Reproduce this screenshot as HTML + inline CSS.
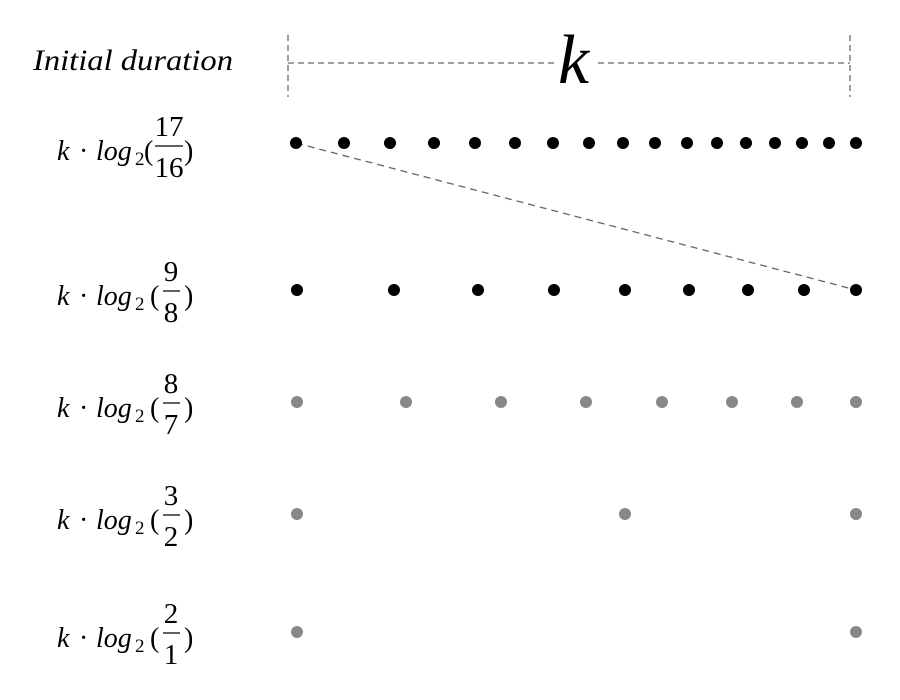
<!DOCTYPE html>
<html><head><meta charset="utf-8"><style>
html,body{margin:0;padding:0;background:#fff;}
</style></head><body>
<svg width="900" height="695" viewBox="0 0 900 695" xmlns="http://www.w3.org/2000/svg" font-family="'Liberation Serif', 'DejaVu Serif', serif">
<g stroke="#666" stroke-width="1.3" stroke-dasharray="6,4" fill="none">
<line x1="288" y1="35" x2="288" y2="97"/>
<line x1="850" y1="35" x2="850" y2="97"/>
<line x1="288" y1="63" x2="850" y2="63"/>
<line x1="296" y1="143" x2="856" y2="290" stroke-dasharray="7,5"/>
</g>
<rect x="556" y="40" width="38" height="40" fill="#fff"/>
<text x="558" y="83" font-size="70" font-style="italic" font-family="'Liberation Serif', serif">k</text>
<text x="33" y="70" font-size="30" font-style="italic" textLength="200" lengthAdjust="spacingAndGlyphs" font-family="'Liberation Serif', serif">Initial duration</text>

<g font-size="28" font-style="italic" font-family="'Liberation Serif', serif">
<text x="57" y="160">k</text><text x="57" y="305">k</text><text x="57" y="417">k</text><text x="57" y="529">k</text><text x="57" y="647">k</text>
<text x="96" y="160">log</text><text x="96" y="305">log</text><text x="96" y="417">log</text><text x="96" y="529">log</text><text x="96" y="647">log</text>
</g>
<g font-size="28" font-family="'Liberation Serif', serif">
<text x="79" y="160">·</text><text x="79" y="305">·</text><text x="79" y="417">·</text><text x="79" y="529">·</text><text x="79" y="647">·</text>
<text x="144" y="160">(</text><text x="184" y="160">)</text>
<text x="150" y="305">(</text><text x="184" y="305">)</text>
<text x="150" y="417">(</text><text x="184" y="417">)</text>
<text x="150" y="529">(</text><text x="184" y="529">)</text>
<text x="150" y="647">(</text><text x="184" y="647">)</text>
</g>
<g font-size="19" font-family="'Liberation Serif', serif">
<text x="135" y="165">2</text><text x="135" y="310">2</text><text x="135" y="422">2</text><text x="135" y="534">2</text><text x="135" y="652">2</text>
</g>
<g font-size="29" text-anchor="middle" font-family="'Liberation Serif', serif">
<text x="169" y="136">17</text><text x="169" y="177">16</text>
<text x="171" y="281">9</text><text x="171" y="322">8</text>
<text x="171" y="393">8</text><text x="171" y="434">7</text>
<text x="171" y="505">3</text><text x="171" y="546">2</text>
<text x="171" y="623">2</text><text x="171" y="664">1</text>
</g>
<g stroke="#000" stroke-width="1.2">
<line x1="155" y1="146" x2="183" y2="146"/>
<line x1="163" y1="291" x2="180" y2="291"/>
<line x1="163" y1="403" x2="180" y2="403"/>
<line x1="163" y1="515" x2="180" y2="515"/>
<line x1="163" y1="633" x2="180" y2="633"/>
</g>

<g fill="#000">
<circle cx="296" cy="143" r="6"/><circle cx="344" cy="143" r="6"/><circle cx="390" cy="143" r="6"/><circle cx="434" cy="143" r="6"/><circle cx="475" cy="143" r="6"/><circle cx="515" cy="143" r="6"/><circle cx="553" cy="143" r="6"/><circle cx="589" cy="143" r="6"/><circle cx="623" cy="143" r="6"/><circle cx="655" cy="143" r="6"/><circle cx="687" cy="143" r="6"/><circle cx="717" cy="143" r="6"/><circle cx="746" cy="143" r="6"/><circle cx="775" cy="143" r="6"/><circle cx="802" cy="143" r="6"/><circle cx="829" cy="143" r="6"/><circle cx="856" cy="143" r="6"/>
<circle cx="297" cy="290" r="6"/><circle cx="394" cy="290" r="6"/><circle cx="478" cy="290" r="6"/><circle cx="554" cy="290" r="6"/><circle cx="625" cy="290" r="6"/><circle cx="689" cy="290" r="6"/><circle cx="748" cy="290" r="6"/><circle cx="804" cy="290" r="6"/><circle cx="856" cy="290" r="6"/>
</g>
<g fill="#888">
<circle cx="297" cy="402" r="6"/><circle cx="406" cy="402" r="6"/><circle cx="501" cy="402" r="6"/><circle cx="586" cy="402" r="6"/><circle cx="662" cy="402" r="6"/><circle cx="732" cy="402" r="6"/><circle cx="797" cy="402" r="6"/><circle cx="856" cy="402" r="6"/>
<circle cx="297" cy="514" r="6"/><circle cx="625" cy="514" r="6"/><circle cx="856" cy="514" r="6"/>
<circle cx="297" cy="632" r="6"/><circle cx="856" cy="632" r="6"/>
</g>
</svg>
</body></html>
